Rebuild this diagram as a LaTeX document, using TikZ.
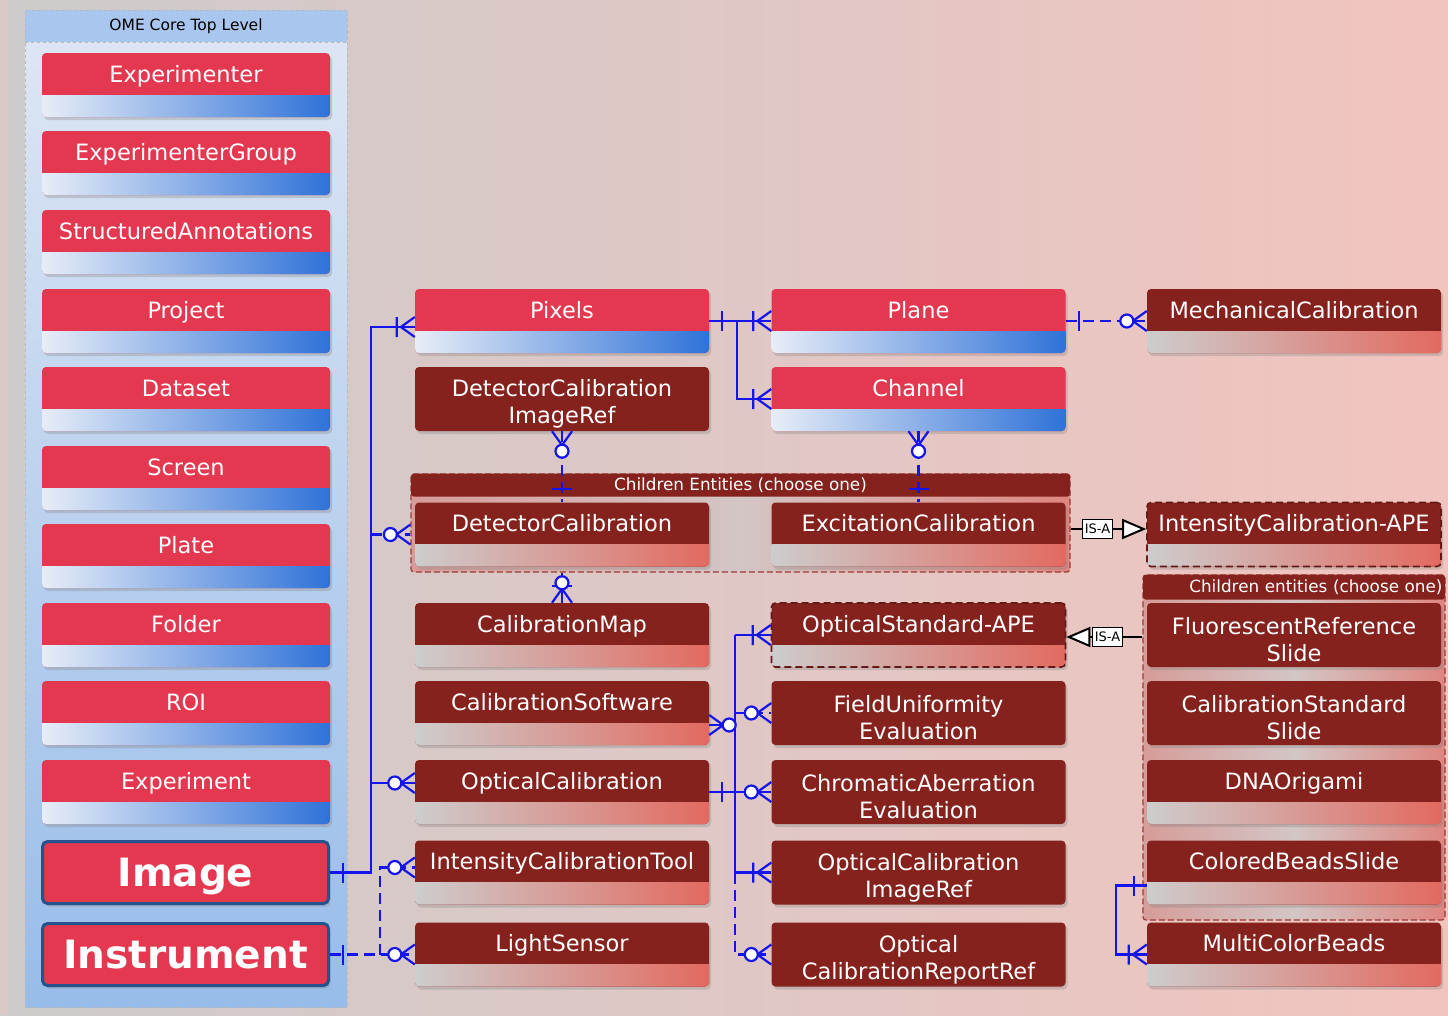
\documentclass[tikz,border=0pt]{standalone}
\usepackage{fontspec}
\setmainfont{DejaVu Sans}
\usepackage{tikz}
\usetikzlibrary{shadows,arrows.meta}

\definecolor{bgleft}{RGB}{205,203,203}
\definecolor{bgright}{RGB}{242,196,191}
\definecolor{bgstrip}{RGB}{218,200,198}
\definecolor{coreRed}{RGB}{227,56,79}
\definecolor{coreBlueL}{RGB}{231,237,247}
\definecolor{coreBlueR}{RGB}{47,114,216}
\definecolor{extRed}{RGB}{134,34,29}
\definecolor{extGrey}{RGB}{205,205,205}
\definecolor{extSalmon}{RGB}{226,106,96}
\definecolor{erBlue}{RGB}{20,20,235}
\definecolor{bigBorder}{RGB}{38,82,140}
\definecolor{panelHead}{RGB}{169,199,238}
\definecolor{panelTop}{RGB}{223,231,244}
\definecolor{panelBot}{RGB}{152,188,233}
\definecolor{grpLeft}{RGB}{214,156,153}
\definecolor{grpMid}{RGB}{211,198,197}
\definecolor{grpRight}{RGB}{222,134,128}
\definecolor{grpBorder}{RGB}{158,58,52}

\newcommand{\boxfont}{\fontsize{22.5pt}{27pt}\selectfont}
\newcommand{\bigboxfont}{\fontsize{39pt}{44pt}\selectfont\bfseries}
\newcommand{\panelheadfont}{\fontsize{15.5pt}{18pt}\selectfont}
\newcommand{\grpfont}{\fontsize{16.8pt}{19pt}\selectfont}
\newcommand{\isafont}{\fontsize{13pt}{15pt}\selectfont}

\begin{document}
\begin{tikzpicture}[x=1pt,y=-1pt,
  entbase/.style={rectangle, rounded corners=4pt, minimum width=294pt, minimum height=64pt, inner sep=0pt,
    text=white, font=\boxfont, drop shadow={shadow xshift=2pt, shadow yshift=-3pt, opacity=.3}},
  ent/.style={entbase, text height=29pt, text depth=35pt},
  core/.style={ent, fill=coreRed, path picture={\shade[sharp corners, left color=coreBlueL, right color=coreBlueR]
    (path picture bounding box.south west) rectangle ([yshift=22pt]path picture bounding box.south east);}},
  ext/.style={ent, fill=extRed, path picture={\shade[sharp corners, left color=extGrey, right color=extSalmon]
    (path picture bounding box.south west) rectangle ([yshift=22pt]path picture bounding box.south east);}},
  ape/.style={ext, draw=extRed!75!black, dash pattern=on 7pt off 4pt, line width=1.6pt},
  twotext/.style={text=white, font=\boxfont, align=center, yshift=-5pt},
  extfull/.style={entbase, fill=extRed},
  corebig/.style={rectangle, rounded corners=5pt, minimum width=286pt, minimum height=62pt, inner sep=0pt,
    fill=coreRed, draw=bigBorder, line width=3pt, text=white, font=\bigboxfont, text height=45pt, text depth=17pt,
    drop shadow={shadow xshift=2pt, shadow yshift=-3pt, opacity=.3}},
  panel/.style={rectangle, draw=gray!55, dashed, line width=1pt, top color=panelTop, bottom color=panelBot, inner sep=0pt},
  panelhead/.style={rectangle, draw=gray!55, dashed, line width=1pt, fill=panelHead, inner sep=0pt, font=\panelheadfont},
  grp/.style={rectangle, draw=grpBorder, dash pattern=on 6pt off 3pt, line width=1.2pt, rounded corners=3pt, inner sep=0pt,
    left color=grpLeft, right color=grpRight, middle color=grpMid},
  grphead/.style={rectangle, fill=extRed, rounded corners=3pt, inner sep=0pt, text=white, font=\grpfont},
  isabox/.style={rectangle, draw=black, line width=1.2pt, fill=white, inner sep=2pt, minimum height=19pt, font=\isafont},
  isaline/.style={draw=black, line width=2pt},
  erline/.style={draw=erBlue, line width=2.2pt},
  erdash/.style={erline, dash pattern=on 11pt off 6pt},
  onlyone/.pic={\draw[erline] (-13,-10) -- (-13,10);},
  onemany/.pic={\draw[erline] (-14,0) -- (0,-10) (-14,0) -- (0,10) (-18,-10) -- (-18,10);},
  zeromany/.pic={\draw[erline] (-14,0) -- (0,-10) (-14,0) -- (0,10); \draw[erline, fill=white] (-20,0) circle (6.5);}
]

\useasboundingbox (0,0) rectangle (1448,1015);
\shade[left color=bgleft, right color=bgright] (0,0) rectangle (1448,1015);
\fill[bgstrip] (0,0) rectangle (8,1015);

\node (toppanel) at (186,508.5) [panel, minimum width=322pt, minimum height=997pt] {};
\node (toppanelhead) at (toppanel.north) [panelhead, anchor=north, minimum width=322pt, minimum height=32pt] {OME Core Top Level};

\node (experimenter) at (186,85) [core, minimum width=288pt] {Experimenter};
\node (expgroup) at (186,163) [core, minimum width=288pt] {ExperimenterGroup};
\node (annotations) at (186,242) [core, minimum width=288pt] {StructuredAnnotations};
\node (project) at (186,321) [core, minimum width=288pt] {Project};
\node (dataset) at (186,399) [core, minimum width=288pt] {Dataset};
\node (screen) at (186,478) [core, minimum width=288pt] {Screen};
\node (plate) at (186,556) [core, minimum width=288pt] {Plate};
\node (folder) at (186,635) [core, minimum width=288pt] {Folder};
\node (roi) at (186,713) [core, minimum width=288pt] {ROI};
\node (experiment) at (186,792) [core, minimum width=288pt] {Experiment};
\node (image) at (185.5,872.5) [corebig] {Image};
\node (instrument) at (185.5,954.5) [corebig] {Instrument};

\node (childgrp) at (740.5,523) [grp, minimum width=659pt, minimum height=98pt] {};
\node (childhead) at (childgrp.north) [grphead, anchor=north, minimum width=659pt, minimum height=23pt] {Children Entities (choose one)};
\node (childgrp2) at (1294,747.5) [grp, minimum width=302pt, minimum height=345pt] {};
\node (childhead2) at (childgrp2.north) [grphead, anchor=north, minimum width=302pt, minimum height=25pt, text width=297pt, align=right] {Children entities (choose one)};

\node (pixels) at (562,321) [core] {Pixels};
\node (dcimgref) at (562,399) [extfull, label={[twotext]center:{DetectorCalibration\\ImageRef}}] {};
\node (detcal) at (562,534.5) [ext] {DetectorCalibration};
\node (calmap) at (562,635) [ext] {CalibrationMap};
\node (calsoft) at (562,713) [ext] {CalibrationSoftware};
\node (optcal) at (562,792) [ext] {OpticalCalibration};
\node (inttool) at (562,872.5) [ext] {IntensityCalibrationTool};
\node (lightsensor) at (562,954.5) [ext] {LightSensor};

\node (plane) at (918.5,321) [core] {Plane};
\node (channel) at (918.5,399) [core] {Channel};
\node (exccal) at (918.5,534.5) [ext] {ExcitationCalibration};
\node (optstd) at (918.5,635) [ape] {OpticalStandard-APE};
\node (fielduni) at (918.5,713) [extfull, label={[twotext]center:{FieldUniformity\\Evaluation}}] {};
\node (chromab) at (918.5,792) [extfull, label={[twotext]center:{ChromaticAberration\\Evaluation}}] {};
\node (ocimgref) at (918.5,872.5) [extfull, label={[twotext]center:{OpticalCalibration\\ImageRef}}] {};
\node (ocreport) at (918.5,954.5) [extfull, label={[twotext]center:{Optical\\CalibrationReportRef}}] {};

\node (mechcal) at (1294,321) [ext] {MechanicalCalibration};
\node (intape) at (1294,534.5) [ape] {IntensityCalibration-APE};
\node (fluoref) at (1294,635) [extfull, label={[twotext]center:{FluorescentReference\\Slide}}] {};
\node (calstd) at (1294,713) [extfull, label={[twotext]center:{CalibrationStandard\\Slide}}] {};
\node (dnaorig) at (1294,792) [ext] {DNAOrigami};
\node (beadslide) at (1294,872.5) [ext] {ColoredBeadsSlide};
\node (multibeads) at (1294,954.5) [ext] {MultiColorBeads};

\node (isa1) at (1097.5,529) [isabox] {IS-A};
\node (isa2) at (1107.5,637) [isabox] {IS-A};

\coordinate (imgbus) at (371,0);
\coordinate (instbus) at (380,0);
\coordinate (pixbus) at (737,0);
\coordinate (ocbus) at (735,0);
\coordinate (beadbus) at (1116,0);
\coordinate (pixelsin) at ([yshift=-6pt]pixels.west);
\coordinate (optcalin) at ([yshift=9pt]optcal.west);
\coordinate (inttoolin) at ([yshift=5pt]inttool.west);
\coordinate (detcalin) at (childgrp.west |- detcal.west);
\coordinate (calsoftout) at ([yshift=-12pt]calsoft.east);
\coordinate (beadout) at ([yshift=-13pt]beadslide.west);

\draw[erline] (image.east) -- (image.east -| imgbus) |- (pixelsin);
\draw[erdash] (imgbus |- detcalin) -- (detcalin);
\draw[erline] (imgbus |- optcalin) -- (optcalin);
\draw[erdash] (instrument.east) -- (lightsensor.west);
\draw[erdash] (instrument.east -| instbus) |- (inttoolin);

\draw[erline] (pixels.east) -- (plane.west);
\draw[erline] (pixels.east -| pixbus) |- (channel.west);
\draw[erdash] (plane.east) -- (mechcal.west);

\draw[erdash] (dcimgref.south) -- (detcal.north);
\draw[erdash] (channel.south) -- (exccal.north);
\draw[erline] (childgrp.south -| calmap.north) -- (calmap.north);

\draw[erline] (optcal.east) -- (chromab.west);
\draw[erline] (ocbus |- optstd.west) -- (ocbus |- ocimgref.west);
\draw[erdash] (ocbus |- ocimgref.west) |- (ocreport.west);
\draw[erline] (ocbus |- optstd.west) -- (optstd.west);
\draw[erdash] (ocbus |- fielduni.west) -- (fielduni.west);
\draw[erline] (ocbus |- ocimgref.west) -- (ocimgref.west);
\draw[erline] (calsoftout) -- (ocbus |- calsoftout);

\draw[erline] (beadout) -- (beadout -| beadbus) |- (multibeads.west);

\pic[rotate=180] at (image.east) {onlyone};
\pic at (pixelsin) {onemany};
\pic at (detcalin) {zeromany};
\pic at (optcalin) {zeromany};
\pic[rotate=180] at (instrument.east) {onlyone};
\pic at (inttoolin) {zeromany};
\pic at (lightsensor.west) {zeromany};

\pic[rotate=180] at (pixels.east) {onlyone};
\pic at (plane.west) {onemany};
\pic at (channel.west) {onemany};
\pic[rotate=180] at (plane.east) {onlyone};
\pic at (mechcal.west) {zeromany};

\pic[rotate=90] at (dcimgref.south) {zeromany};
\pic[rotate=-90] at (detcal.north) {onlyone};
\pic[rotate=90] at (channel.south) {zeromany};
\pic[rotate=-90] at (exccal.north) {onlyone};
\pic[rotate=90] at (childgrp.south -| calmap.north) {onlyone};
\pic[rotate=-90] at (calmap.north) {zeromany};

\pic[rotate=180] at (optcal.east) {onlyone};
\pic at (optstd.west) {onemany};
\pic at (fielduni.west) {zeromany};
\pic at (chromab.west) {zeromany};
\pic at (ocimgref.west) {onemany};
\pic at (ocreport.west) {zeromany};
\pic[rotate=180] at (calsoftout) {zeromany};

\pic at (beadout) {onlyone};
\pic at (multibeads.west) {onemany};

\draw[isaline] (childgrp.east |- isa1) -- (isa1.west);
\draw[isaline, -{Triangle[length=24pt, width=20pt, fill=white]}] (isa1.east) -- (intape.west |- isa1);
\draw[isaline] (childgrp2.west |- isa2) -- (isa2.east);
\draw[isaline, -{Triangle[length=24pt, width=20pt, fill=white]}] (isa2.west) -- (optstd.east |- isa2);

\end{tikzpicture}
\end{document}
